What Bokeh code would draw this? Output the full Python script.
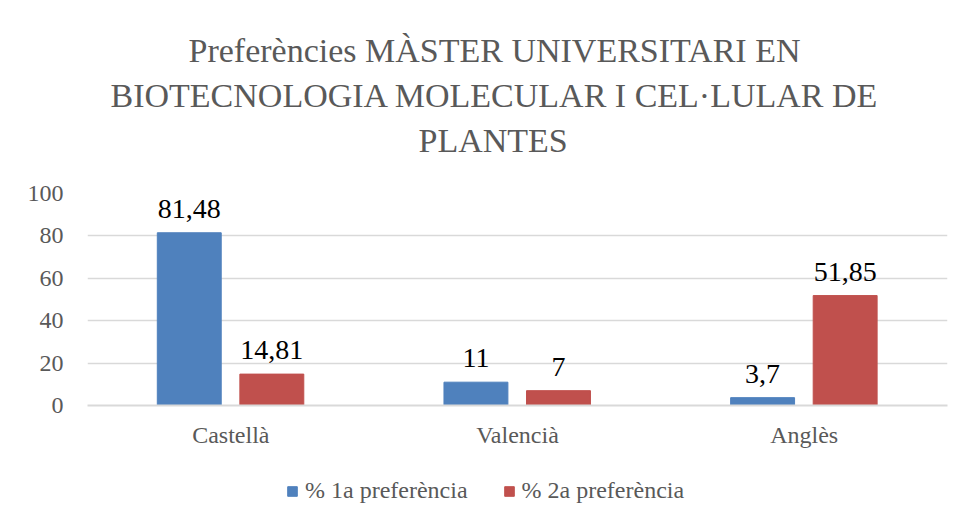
from bokeh.plotting import figure
from bokeh.layouts import column
from bokeh.models import ColumnDataSource, FactorRange, Legend, LegendItem, FixedTicker, Title
from bokeh.transform import dodge
from bokeh.core.properties import value
from bokeh.embed import file_html
from bokeh.resources import INLINE

categories = ["Castellà", "Valencià", "Anglès"]
series_names = ["% 1a preferència", "% 2a preferència"]
pref1 = [81.48, 11, 3.7]
pref2 = [14.81, 7, 51.85]
y_ticks = [0, 20, 40, 60, 80, 100]
title_lines = ["Preferències MÀSTER UNIVERSITARI EN",
               "BIOTECNOLOGIA MOLECULAR I CEL·LULAR DE",
               "PLANTES"]
title_offsets = [101, 23, 331]  # left offset (px) of each title line

BLUE = "#4F81BD"
RED = "#C0504D"
GREY = "#595959"
FONT = "Liberation Serif"


def fmt(v):
    return f"{v:g}".replace(".", ",")


src = ColumnDataSource(dict(
    cat=categories, p1=pref1, p2=pref2,
    l1=[fmt(v) for v in pref1], l2=[fmt(v) for v in pref2],
))

p = figure(
    x_range=FactorRange(*categories), y_range=(0, 100),
    width=960, height=460, frame_width=860, frame_height=212,
    output_backend="svg", toolbar_location=None,
    min_border_left=87, min_border_right=13, min_border_top=193, min_border_bottom=0,
    title=None,
)

r1 = p.vbar(x=dodge("cat", -0.145, range=p.x_range), top="p1", width=0.223,
            source=src, fill_color=BLUE, line_color=BLUE)
r2 = p.vbar(x=dodge("cat", 0.143, range=p.x_range), top="p2", width=0.223,
            source=src, fill_color=RED, line_color=RED)

for col, lab, off in (("p1", "l1", -0.145), ("p2", "l2", 0.143)):
    p.text(x=dodge("cat", off, range=p.x_range), y=col, text=lab, source=src,
           text_align="center", text_baseline="alphabetic", y_offset=-24,
           text_font=value(FONT), text_font_size="28px", text_color="black")

# spacer between the frame and the title block
p.add_layout(Title(text=" ", text_font_size="10px", standoff=19), "above")
# title lines: the first one added sits closest to the plot frame
for line, off in reversed(list(zip(title_lines, title_offsets))):
    p.add_layout(Title(text=line, align="left", offset=off, text_font=FONT,
                       text_font_size="34px", text_font_style="normal",
                       text_color=GREY, standoff=6), "above")

p.outline_line_color = None
p.background_fill_color = "white"
p.border_fill_color = "white"

p.xgrid.grid_line_color = None
p.ygrid.grid_line_color = "#d9d9d9"
p.ygrid.grid_line_width = 1.5

p.yaxis.ticker = FixedTicker(ticks=y_ticks)
p.yaxis.axis_line_color = None
p.yaxis.major_tick_line_color = None
p.yaxis.minor_tick_line_color = None
p.yaxis.major_label_text_font = FONT
p.yaxis.major_label_text_font_size = "24px"
p.yaxis.major_label_text_color = GREY
p.yaxis.major_label_standoff = 18

p.xaxis.axis_line_color = "#d9d9d9"
p.xaxis.axis_line_width = 2
p.xaxis.major_tick_line_color = None
p.xaxis.minor_tick_line_color = None
p.xaxis.major_label_text_font = FONT
p.xaxis.major_label_text_font_size = "24px"
p.xaxis.major_label_text_color = GREY
p.xaxis.major_label_standoff = 10

# legend strip below the chart; its key renderers sit outside the strip's
# visible range so only the legend swatches show
leg = figure(width=960, height=56, x_range=(0, 1), y_range=(0, 1),
             output_backend="svg", toolbar_location=None,
             x_axis_type=None, y_axis_type=None, min_border=0)
leg.outline_line_color = None
leg.background_fill_color = "white"
leg.border_fill_color = "white"
key_src = ColumnDataSource(dict(x=[-10], top=[-10]))
k1 = leg.vbar(x="x", top="top", width=0.1, source=key_src, fill_color=BLUE, line_color=BLUE)
k2 = leg.vbar(x="x", top="top", width=0.1, source=key_src, fill_color=RED, line_color=RED)

legend = Legend(
    items=[LegendItem(label=series_names[0], renderers=[k1]),
           LegendItem(label=series_names[1], renderers=[k2])],
    orientation="horizontal", location=(199, 2),
    glyph_width=12, glyph_height=12, label_standoff=7, spacing=35,
    label_text_font=FONT, label_text_font_size="24px", label_text_color=GREY,
    border_line_color=None, background_fill_alpha=0, margin=0, padding=0,
)
leg.add_layout(legend, "center")

layout = column(p, leg, spacing=0)
open("out.html", "w").write(file_html(layout, INLINE))
